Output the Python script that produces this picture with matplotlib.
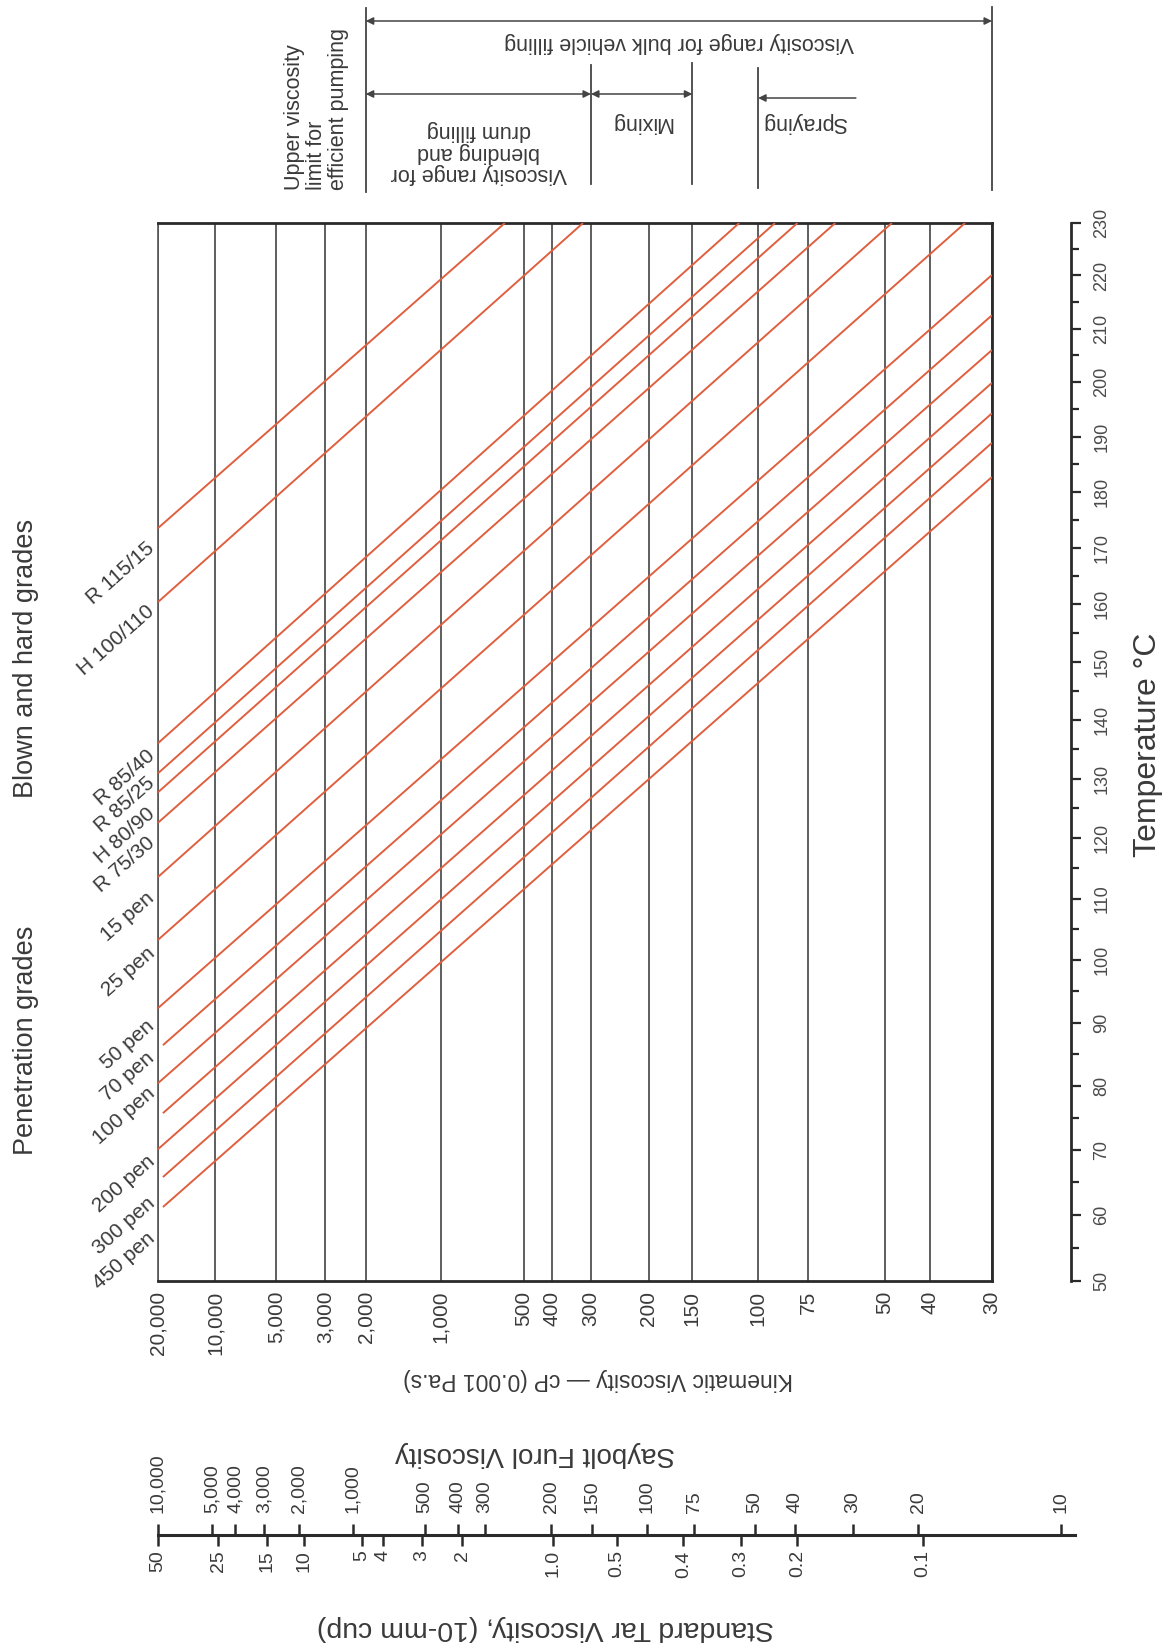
import numpy as np
import matplotlib
matplotlib.use("Agg")
import matplotlib.pyplot as plt
import matplotlib.transforms as mtransforms
from matplotlib.ticker import FixedLocator, NullLocator

# ---------------- data ----------------
# kinematic viscosity grid (cP)
visc_ticks = [20000, 10000, 5000, 3000, 2000, 1000, 500, 400, 300, 200, 150, 100, 75, 50, 40, 30]
visc_labels = ['20,000', '10,000', '5,000', '3,000', '2,000', '1,000', '500', '400',
               '300', '200', '150', '100', '75', '50', '40', '30']

# temperature scale (deg C)
temp_major = list(range(50, 231, 10))
temp_minor = list(range(55, 230, 10))

# bitumen grades: each line runs from (start_visc, start_temp) to (end_visc, end_temp)
grade_names = ['R 115/15', 'H 100/110', 'R 85/40', 'R 85/25', 'H 80/90', 'R 75/30',
               '15 pen', '25 pen', '50 pen', '70 pen', '100 pen', '', '200 pen',
               '300 pen', '450 pen']
start_visc = [20000, 20000, 20000, 20000, 20000, 20000, 20000, 20000, 20000,
              18800, 20000, 18800, 20000, 18800, 18800]
start_temp = [173.5, 160.4, 136.0, 130.9, 127.7, 122.6, 113.6, 103.3, 92.3,
              86.4, 80.4, 75.7, 70.1, 65.8, 61.2]
end_visc = [582, 318, 112, 90.6, 79.7, 64.7, 48.2, 33.9, 30, 30, 30, 30, 30, 30, 30]
end_temp = [230, 230, 230, 230, 230, 230, 230, 230, 220.1, 212.5, 206.0, 199.9,
            194.3, 188.9, 182.7]
label_temp = [170.3, 159.2, 134.3, 129.6, 124.6, 119.6, 110.5, 101.5, 89.9, 84.7,
              79.2, 0.0, 68.6, 62.1, 56.9]

# Saybolt Furol seconds and their kinematic equivalents (cP)
sfs_labels = ['10,000', '5,000', '4,000', '3,000', '2,000', '1,000', '500', '400', '300',
              '200', '150', '100', '75', '50', '40', '30', '20', '10']
sfs_cp = [20000, 10357, 7930, 5727, 3947, 2266, 1149, 864, 685, 404, 298, 202, 148,
          102, 80.7, 59.0, 42.3, 22.3]

# Standard tar viscosity (10-mm cup) and kinematic equivalents (cP)
tar_labels = ['50', '25', '15', '10', '5', '4', '3', '2', '1.0', '0.5', '0.4', '0.3',
              '0.2', '0.1']
tar_cp = [20000, 9647, 5540, 3725, 2075, 1696, 1181, 830, 399, 249, 159, 111, 79.7, 41.3]

# process viscosity ranges (cP)
pump_limit = 2000
blend_range = (2000, 300)
mix_range = (300, 150)
spray_limit = 100
spray_arrow_from = 58
bulk_range = (2000, 30)


# ---------------- chart scales ----------------
def astm_fwd(v):
    v = np.asarray(v, dtype=float)
    with np.errstate(divide='ignore', invalid='ignore'):
        return np.log10(np.log10(v + 0.7))


def astm_inv(u):
    u = np.asarray(u, dtype=float)
    with np.errstate(over='ignore'):
        return 10.0 ** (10.0 ** u) - 0.7


def astm_mid(a, b):
    return float(astm_inv((astm_fwd(a) + astm_fwd(b)) / 2.0))


TEMP_OFFSET = 600.0


def temp_fwd(t):
    t = np.asarray(t, dtype=float)
    with np.errstate(divide='ignore', invalid='ignore'):
        return np.log10(t + TEMP_OFFSET)


def temp_inv(s):
    s = np.asarray(s, dtype=float)
    return 10.0 ** s - TEMP_OFFSET


# ---------------- figure ----------------
W, H = 1171, 1648
TXT = '#3a3a3a'
LINE = '#333333'
RED = '#df5f3f'
plt.rcParams['font.family'] = ['Liberation Sans', 'DejaVu Sans']
NARROW = ['Liberation Sans Narrow', 'Liberation Sans', 'DejaVu Sans']

fig = plt.figure(figsize=(W / 100, H / 100), dpi=100)
fig.patch.set_facecolor('white')


def rect(l, t, r, b):
    return [l / W, 1 - b / H, (r - l) / W, (b - t) / H]


def fy(px):
    return 1 - px / H


PL, PT, PR, PB = 158, 223, 992, 1281
ax = fig.add_axes(rect(PL, PT, PR, PB))
ax.set_xscale('function', functions=(astm_fwd, astm_inv))
ax.set_yscale('function', functions=(temp_fwd, temp_inv))
ax.set_xlim(visc_ticks[0], visc_ticks[-1])
ax.set_ylim(temp_major[0], temp_major[-1])

ax.set_xticks(visc_ticks, labels=visc_labels)
ax.xaxis.set_minor_locator(NullLocator())
ax.yaxis.set_major_locator(NullLocator())
ax.yaxis.set_minor_locator(NullLocator())
ax.grid(axis='x', color=LINE, lw=1.1, zorder=1)
ax.tick_params(axis='x', length=0, pad=7, labelsize=15, labelcolor=TXT, labelrotation=90)
ax.spines['left'].set_linewidth(1.2)
ax.spines['left'].set_color('#555555')
for s in ['top', 'right', 'bottom']:
    ax.spines[s].set_linewidth(2.0)
    ax.spines[s].set_color('#2a2a2a')

# grade lines
for v0, t0, v1, t1 in zip(start_visc, start_temp, end_visc, end_temp):
    ax.plot([v0, v1], [t0, t1], color=RED, lw=1.4, zorder=3, solid_capstyle='butt')

# grade labels, parallel to the lines
for name, tl in zip(grade_names, label_temp):
    if not name:
        continue
    ax.annotate(name, xy=(0, tl), xycoords=('axes fraction', 'data'),
                xytext=(-6, 0), textcoords='offset pixels', rotation=41.5,
                rotation_mode='anchor', ha='right', va='center', fontsize=15,
                color=TXT, annotation_clip=False)

# temperature axis, set off to the right of the chart
TX = 1071
tax = fig.add_axes(rect(TX - 1, PT, TX, PB))
tax.patch.set_alpha(0)
tax.set_yscale('function', functions=(temp_fwd, temp_inv))
tax.set_ylim(temp_major[0], temp_major[-1])
tax.set_xticks([])
for s in ['left', 'top', 'bottom']:
    tax.spines[s].set_visible(False)
tax.spines['right'].set_linewidth(2.0)
tax.spines['right'].set_color('#2a2a2a')
tax.yaxis.tick_right()
tax.set_yticks(temp_major, labels=[str(t) for t in temp_major])
tax.yaxis.set_minor_locator(FixedLocator(temp_minor))
tax.tick_params(which='major', direction='out', length=7.2, width=1.6, color='#2a2a2a',
                labelsize=13, labelcolor='#4a4a4a', labelrotation=90, pad=9)
tax.tick_params(which='minor', direction='out', length=5.8, width=1.6, color='#2a2a2a')
for lbl in tax.get_yticklabels():
    lbl.set_va('center')
    lbl.set_family(NARROW)

# titles
fig.text(1148 / W, fy(745), 'Temperature °C', rotation=90, ha='center', va='center',
         fontsize=23, color=TXT)
fig.text(26 / W, fy(658), 'Blown and hard grades', rotation=90, ha='center',
         va='center', fontsize=19.5, color=TXT)
fig.text(26 / W, fy(1040), 'Penetration grades', rotation=90, ha='center',
         va='center', fontsize=19.5, color=TXT)
fig.text(598 / W, fy(1380), 'Kinematic Viscosity — cP (0.001 Pa.s)', rotation=180,
         ha='center', va='center', fontsize=16.5, color=TXT)

# ---------------- process ranges above the chart ----------------
blend = mtransforms.blended_transform_factory(ax.transData, fig.transFigure)
ann_kw = dict(color='#444444', lw=1.3, transform=blend, clip_on=False)

for v, top, bot in [(pump_limit, 8, 192), (bulk_range[1], 7, 190),
                    (blend_range[1], 65, 184), (mix_range[1], 63, 184),
                    (spray_limit, 68, 188)]:
    ax.plot([v, v], [fy(top), fy(bot)], **ann_kw)

arrow_kw = dict(arrowstyle='<|-|>', color='#444444', lw=1.1, mutation_scale=11,
                shrinkA=0, shrinkB=0)
for (va, vb), ypx in [(bulk_range, 21), (blend_range, 94), (mix_range, 94)]:
    ax.annotate('', xy=(va, fy(ypx)), xytext=(vb, fy(ypx)), xycoords=blend,
                textcoords=blend, arrowprops=arrow_kw, annotation_clip=False)
ax.annotate('', xy=(spray_limit, fy(98)), xytext=(spray_arrow_from, fy(98)),
            xycoords=blend, textcoords=blend, annotation_clip=False,
            arrowprops=dict(arrowstyle='-|>', color='#444444', lw=1.1,
                            mutation_scale=11, shrinkA=0, shrinkB=0))

ax.text(astm_mid(*bulk_range), fy(43), 'Viscosity range for bulk vehicle filling',
        transform=blend, rotation=180, ha='center', va='center', fontsize=15.5,
        color=TXT, clip_on=False)
ax.text(astm_mid(*blend_range), fy(152), 'Viscosity range for\nblending and\ndrum filling',
        transform=blend, rotation=180, ha='center', va='center', fontsize=15.5,
        multialignment='center', linespacing=1.05, color=TXT, clip_on=False)
ax.text(astm_mid(*mix_range), fy(122), 'Mixing', transform=blend, rotation=180,
        ha='center', va='center', fontsize=15.5, color=TXT, clip_on=False)
ax.annotate('Spraying', xy=(spray_limit, fy(123)), xycoords=blend, xytext=(4, 0),
            textcoords='offset pixels', rotation=180, ha='left', va='center',
            fontsize=15.5, color=TXT, annotation_clip=False)
ax.annotate('Upper viscosity\nlimit for\nefficient pumping', xy=(pump_limit, fy(190)),
            xycoords=blend, xytext=(-17, 0), textcoords='offset pixels', rotation=90,
            ha='right', va='bottom', multialignment='left', linespacing=1.05,
            fontsize=15.5, color=TXT, annotation_clip=False)

# ---------------- conversion scale below the chart ----------------
SR = 1075
ppu = (PR - PL) / (astm_fwd(visc_ticks[0]) - astm_fwd(visc_ticks[-1]))
right_val = float(astm_inv(astm_fwd(visc_ticks[0]) - (SR - PL) / ppu))

SY = 1535
sax = fig.add_axes(rect(PL, SY - 20, SR, SY + 20))
sax.patch.set_alpha(0)
sax.set_xscale('function', functions=(astm_fwd, astm_inv))
sax.set_xlim(visc_ticks[0], right_val)
sax.set_yticks([])
for s in ['left', 'right', 'top']:
    sax.spines[s].set_visible(False)
sax.spines['bottom'].set_position(('axes', 0.5))
sax.spines['bottom'].set_linewidth(2.2)
sax.spines['bottom'].set_color('#2a2a2a')
sax.set_xticks(tar_cp, labels=tar_labels)
sax.xaxis.set_minor_locator(NullLocator())
sax.tick_params(axis='x', direction='out', length=8, width=1.8, color='#2a2a2a',
                labelsize=14, labelcolor=TXT, labelrotation=90, pad=3)

sax2 = sax.twiny()
sax2.patch.set_alpha(0)
sax2.set_xscale('function', functions=(astm_fwd, astm_inv))
sax2.set_xlim(visc_ticks[0], right_val)
for s in ['left', 'right', 'top', 'bottom']:
    sax2.spines[s].set_visible(False)
sax2.spines['top'].set_position(('axes', 0.5))
sax2.set_xticks(sfs_cp, labels=sfs_labels)
sax2.xaxis.set_minor_locator(NullLocator())
sax2.tick_params(axis='x', direction='out', length=8, width=1.8, color='#2a2a2a',
                 labelsize=14, labelcolor=TXT, labelrotation=90, pad=8)

fig.text(535 / W, fy(1454), 'Saybolt Furol Viscosity', rotation=180, ha='center',
         va='center', fontsize=20, color=TXT)
fig.text(545 / W, fy(1628), 'Standard Tar Viscosity, (10-mm cup)', rotation=180,
         ha='center', va='center', fontsize=20.5, color=TXT)

fig.savefig('out.png', dpi=100, facecolor='white')
